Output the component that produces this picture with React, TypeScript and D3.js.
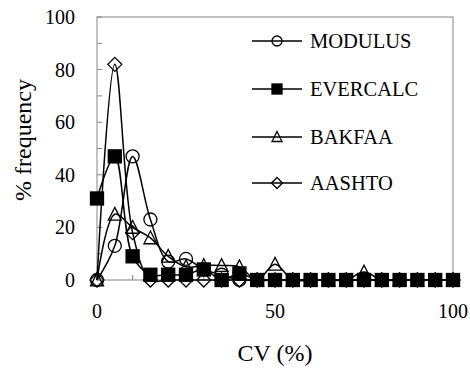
import React from "react";
import * as d3 from "d3";

const cv = [0, 5, 10, 15, 20, 25, 30, 35, 40, 45, 50, 55, 60, 65, 70, 75, 80, 85, 90, 95, 100];
const modulus = [0, 13, 47, 23, 7, 8, 4, 2, 0, 0, 0, 0, 0, 0, 0, 0, 0, 0, 0, 0, 0];
const evercalc = [31, 47, 9, 2, 2, 2, 4, 0, 2.5, 0, 0, 0, 0, 0, 0, 0, 0, 0, 0, 0, 0];
const bakfaa = [0, 25, 20, 16, 9, 5, 5.5, 5.5, 5, 0, 6, 0, 0, 0, 0, 3, 0, 0, 0, 0, 0];
const aashto = [0, 82, 18, 0, 0, 0, 0, 0, 0, 0, 0, 0, 0, 0, 0, 0, 0, 0, 0, 0, 0];
const seriesNames = ["MODULUS", "EVERCALC", "BAKFAA", "AASHTO"];
const markerKinds = ["circle", "square", "triangle", "diamond"];
const xTickLabels = [0, 50, 100];
const yTickLabels = [0, 20, 40, 60, 80, 100];

const W = 470;
const H = 373;
const FONT = "Liberation Serif";

function Marker({ kind, x, y, s }: { kind: string; x: number; y: number; s: number }) {
  const common = { stroke: "#000", strokeWidth: 1.3 };
  if (kind === "circle") return <circle cx={x} cy={y} r={s / 2} fill="none" {...common} />;
  if (kind === "square")
    return <rect x={x - s / 2} y={y - s / 2} width={s} height={s} fill="#000" {...common} />;
  if (kind === "triangle") {
    const h = s * 0.9;
    const p = `${x},${y - h / 2 - 1} ${x + s / 2},${y + h / 2} ${x - s / 2},${y + h / 2}`;
    return <polygon points={p} fill="none" {...common} />;
  }
  const r = s / 2 + 0.5;
  const p = `${x},${y - r} ${x + r},${y} ${x},${y + r} ${x - r},${y}`;
  return <polygon points={p} fill="none" {...common} />;
}

export default function App() {
  const left = 97, right = 453, top = 17, bottom = 280;
  const x = d3.scaleLinear().domain([0, 100]).range([left, right]);
  const y = d3.scaleLinear().domain([0, 100]).range([bottom, top]);
  const series = [modulus, evercalc, bakfaa, aashto];
  const line = d3
    .line<number>()
    .x((_, i) => x(cv[i]))
    .y((d) => y(d))
    .curve(d3.curveCatmullRom.alpha(0.5));
  const axisColor = "#868686";
  const legendY = [41, 89, 137, 183];

  return (
    <svg width={W} height={H} style={{ position: "absolute", left: 0, top: 0, background: "#fff", fontFamily: FONT }}>
      {/* plot frame */}
      <rect x={left} y={top} width={right - left} height={bottom - top} fill="none" stroke={axisColor} strokeWidth={1} />
      {d3.range(0, 101, 10).map((t) => (
        <line key={"yt" + t} x1={left} x2={left + 5} y1={y(t)} y2={y(t)} stroke={axisColor} />
      ))}
      {d3.range(0, 101, 10).map((t) => (
        <line key={"xt" + t} x1={x(t)} x2={x(t)} y1={bottom} y2={bottom - 5} stroke={axisColor} />
      ))}
      {yTickLabels.map((t) => (
        <text key={"yl" + t} x={75} y={y(t) + 7} textAnchor="end" fontSize={20}>
          {t}
        </text>
      ))}
      {xTickLabels.map((t) => (
        <text key={"xl" + t} x={x(t)} y={318} textAnchor="middle" fontSize={20}>
          {t}
        </text>
      ))}
      <text x={275} y={361} textAnchor="middle" fontSize={24}>
        CV (%)
      </text>
      <text transform={`translate(31,${140}) rotate(-90)`} textAnchor="middle" fontSize={24}>
        % frequency
      </text>

      {/* series */}
      {series.map((vals, si) => (
        <g key={"s" + si}>
          <path d={line(vals) || ""} fill="none" stroke="#000" strokeWidth={1.5} />
          {vals.map((v, i) => (
            <Marker key={i} kind={markerKinds[si]} x={x(cv[i])} y={y(v)} s={13} />
          ))}
        </g>
      ))}

      {/* legend */}
      {seriesNames.map((name, i) => (
        <g key={"lg" + name}>
          <line x1={252} x2={302} y1={legendY[i]} y2={legendY[i]} stroke="#000" strokeWidth={1.5} />
          <Marker kind={markerKinds[i]} x={277} y={legendY[i]} s={10} />
          <text x={310} y={legendY[i] + 7} fontSize={20.5}>
            {name}
          </text>
        </g>
      ))}
    </svg>
  );
}
